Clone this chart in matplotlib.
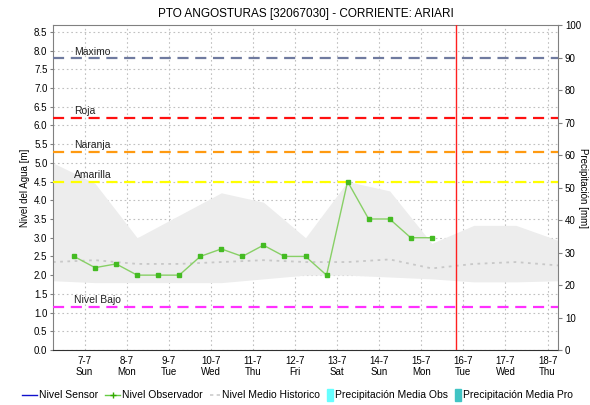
import datetime as dt
import matplotlib
matplotlib.use("Agg")
import matplotlib.pyplot as plt
import matplotlib.dates as mdates
from matplotlib.lines import Line2D
from matplotlib.patches import Rectangle

plt.rcParams["font.family"] = ["Liberation Sans", "DejaVu Sans"]

# niveles observados (06:00 y 18:00)
obs_dias = ["2019-07-07", "2019-07-07", "2019-07-08", "2019-07-08", "2019-07-09", "2019-07-09",
            "2019-07-10", "2019-07-10", "2019-07-11", "2019-07-11", "2019-07-12", "2019-07-12",
            "2019-07-13", "2019-07-13", "2019-07-14", "2019-07-14", "2019-07-15", "2019-07-15"]
obs_horas = [6, 18] * 9
obs_nivel = [2.5, 2.2, 2.3, 2.0, 2.0, 2.0, 2.5, 2.7, 2.5, 2.8, 2.5, 2.5,
             2.0, 4.5, 3.5, 3.5, 3.0, 3.0]

# historico diario (18:00): minimo, maximo y medio
hist_dias = ["2019-07-06", "2019-07-07", "2019-07-08", "2019-07-09", "2019-07-10", "2019-07-11",
             "2019-07-12", "2019-07-13", "2019-07-14", "2019-07-15", "2019-07-16", "2019-07-17",
             "2019-07-18"]
hist_max = [5.0, 4.45, 3.0, 3.6, 4.2, 3.95, 3.0, 4.5, 4.25, 2.85, 3.33, 3.33, 2.93]
hist_min = [1.85, 1.8, 1.8, 1.8, 1.8, 1.9, 2.0, 2.0, 1.95, 1.9, 1.82, 1.82, 1.85]
hist_medio = [2.35, 2.4, 2.3, 2.3, 2.35, 2.4, 2.35, 2.35, 2.42, 2.18, 2.3, 2.35, 2.26]

# umbrales de alerta
umbrales = ["Maximo", "Roja", "Naranja", "Amarilla", "Nivel Bajo"]
umbral_valor = [7.8, 6.2, 5.3, 4.5, 1.15]
umbral_color = ["#6f7a9f", "#ff1010", "#ff9a10", "#ffff00", "#ff30ff"]

etiquetas_dias = ["2019-07-07", "2019-07-08", "2019-07-09", "2019-07-10", "2019-07-11", "2019-07-12",
                  "2019-07-13", "2019-07-14", "2019-07-15", "2019-07-16", "2019-07-17", "2019-07-18"]
ahora = dt.datetime(2019, 7, 16, 8, 0)

def fecha(d, h=0):
    return dt.datetime.strptime(d, "%Y-%m-%d") + dt.timedelta(hours=h)

t_obs = [fecha(d, h) for d, h in zip(obs_dias, obs_horas)]
t_hist = [fecha(d, 18) for d in hist_dias]
t_ticks = [fecha(d, 12) for d in etiquetas_dias]

W, H = 590, 405
fig = plt.figure(figsize=(W / 100, H / 100), dpi=100)
ax = fig.add_axes([0.0898, 0.1358, 0.8560, 0.8022])

ax.fill_between(t_hist, hist_min, hist_max, color="#ededed", lw=0, zorder=1)
ax.plot(t_hist, hist_medio, color="#c8c8c8", lw=1.3, ls=(0, (1.5, 2.5)), zorder=2)

for nombre, v, c in zip(umbrales, umbral_valor, umbral_color):
    ax.axhline(v, color=c, lw=1.6, ls=(0, (5, 3)), zorder=3)
    ax.text(fecha("2019-07-07", 6), v + 0.04, nombre, fontsize=7.5, color="#222222",
            va="bottom", ha="left", zorder=4)

ax.plot(t_obs, obs_nivel, color="#88d066", lw=1.0, marker="s", ms=2.6,
        mfc="#44bb22", mec="#44bb22", zorder=5)
ax.axvline(ahora, color="#ff2020", lw=1.0, zorder=6)

ax.set_xlim(fecha("2019-07-06", 18), fecha("2019-07-18", 18))
ax.set_ylim(0, 8.68)
ax.set_yticks([i * 0.5 for i in range(18)])
ax.yaxis.set_major_formatter(matplotlib.ticker.FormatStrFormatter("%.1f"))
ax.set_xticks(t_ticks)
ax.xaxis.set_major_formatter(mdates.DateFormatter("%-d-%-m\n%a"))
ax.grid(True, color="#c0c0c0", ls=(0, (1.5, 2.5)), lw=0.8)
ax.set_axisbelow(True)
ax.tick_params(axis="both", labelsize=7, length=2, color="#808080", pad=2)
ax.tick_params(axis="x", length=0, pad=4)
for lado in ["left", "right", "top"]:
    ax.spines[lado].set_color("#808080")
ax.spines["bottom"].set_linestyle((0, (1, 1)))
ax.spines["bottom"].set_color("#303030")
ax.set_ylabel("Nivel del Agua [m]", fontsize=7, labelpad=3)

ax2 = ax.twinx()
ax2.set_ylim(0, 100)
ax2.set_yticks(range(0, 101, 10))
ax2.tick_params(labelsize=7, length=3, color="#808080", pad=2)
ax2.set_ylabel("Precipitación [mm]", fontsize=7, rotation=270, labelpad=5)
for lado in ["left", "right", "top", "bottom"]:
    ax2.spines[lado].set_visible(False)

ax.set_title("PTO ANGOSTURAS [32067030] - CORRIENTE: ARIARI", fontsize=8.5, pad=6)

# leyenda dibujada a mano en pixeles de la figura
nombres = ["Nivel Sensor", "Nivel Observador", "Nivel Medio Historico",
           "Precipitación Media Obs", "Precipitación Media Pro"]
renderer = fig.canvas.get_renderer()
x, yc = 22, 395
for i, nombre in enumerate(nombres):
    fy = (H - yc) / H
    if i == 0:
        fig.add_artist(Line2D([x / W, (x + 15) / W], [fy, fy], color="#1010cc", lw=1))
        x += 15
    elif i == 1:
        fig.add_artist(Line2D([x / W, (x + 15) / W], [fy, fy], color="#66cc44", lw=1))
        fig.add_artist(Line2D([(x + 7.5) / W], [fy], marker="+", ms=4, mec="#33aa00", ls="none"))
        x += 15
    elif i == 2:
        fig.add_artist(Line2D([x / W, (x + 10) / W], [fy, fy], color="#cccccc", lw=1.2,
                              ls=(0, (2, 2))))
        x += 10
    else:
        color = "#66ffff" if i == 3 else "#40c4c4"
        fig.add_artist(Rectangle((x / W, (H - yc - 6) / H), 6 / W, 12 / H,
                                 color=color, transform=fig.transFigure))
        x += 6
    t = fig.text((x + 2) / W, fy, nombre, fontsize=7.5, va="center", ha="left")
    bb = t.get_window_extent(renderer)
    x = bb.x1 + 7

fig.savefig("out.png", dpi=100)
